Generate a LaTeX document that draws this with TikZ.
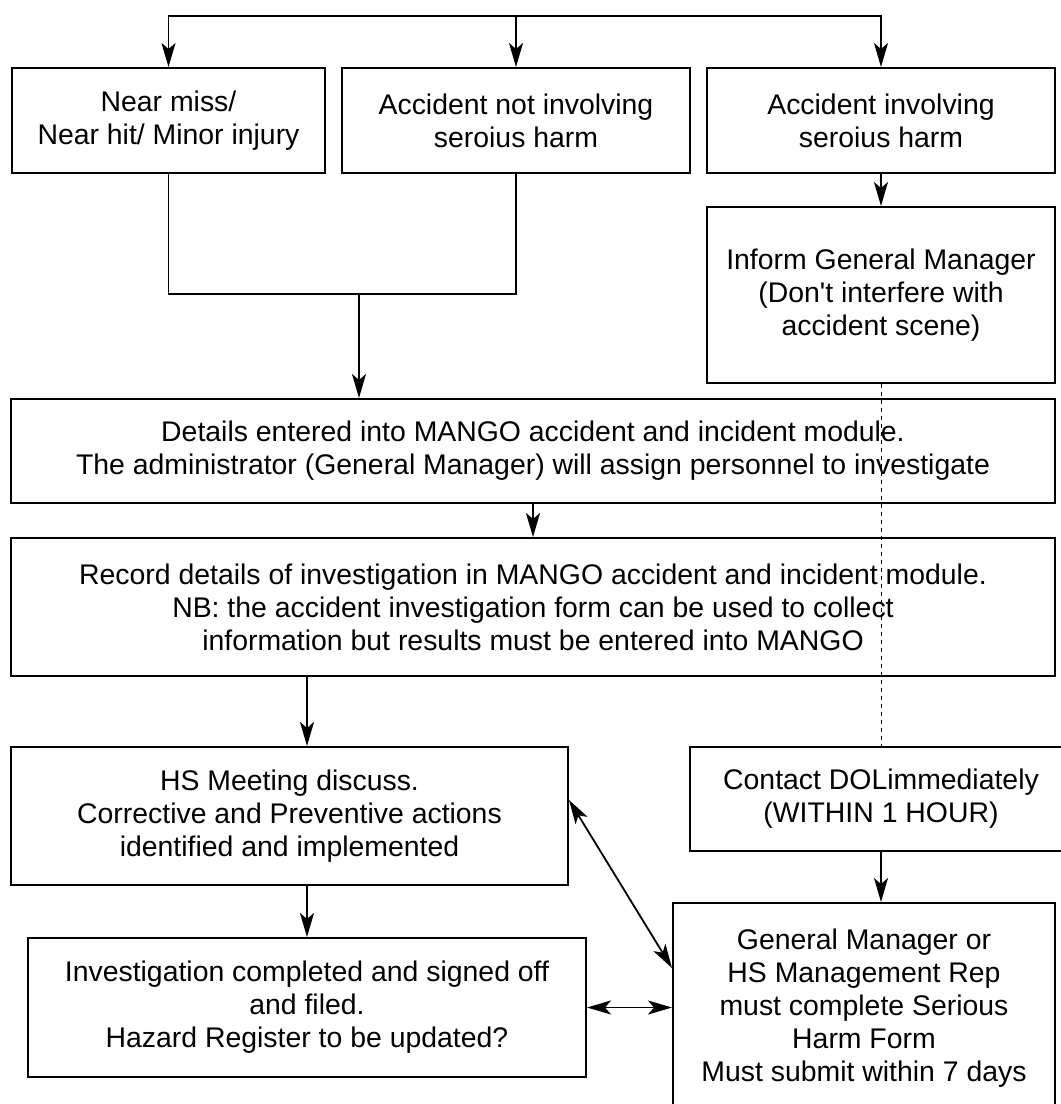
\documentclass[tikz,border=0pt]{standalone}
\usepackage{fontspec}
\setmainfont{Liberation Sans}
\usetikzlibrary{arrows.meta,positioning,calc}

\begin{document}
\begin{tikzpicture}[x=0.5pt, y=-0.5pt,
    stepbox/.style={rectangle, draw=black, line width=1pt, align=center,
                    inner sep=0pt, font=\fontsize{14.2}{16.5}\selectfont},
    arr/.style={-{Stealth[length=12pt, width=7pt, inset=3pt]}, line width=0.9pt},
    dbl/.style={{Stealth[length=12pt, width=7pt, inset=3pt]}-{Stealth[length=12pt, width=7pt, inset=3pt]},
                line width=0.9pt},
    link/.style={line width=0.9pt},
    dots/.style={dash pattern=on 2pt off 2pt, line width=0.5pt},
]
\useasboundingbox (0,0) rectangle (1061,1104);

% three kinds of event
\node[stepbox, minimum width=156.5pt, minimum height=52.5pt] (near) at (168.5,120.5)
    {Near miss/\\Near hit/ Minor injury};
\node[stepbox, minimum width=174pt, minimum height=52.5pt] (minor) at (516,120.5)
    {Accident not involving\\seroius harm};
\node[stepbox, minimum width=174pt, minimum height=52.5pt] (serious) at (881,120.5)
    {Accident involving\\seroius harm};
\coordinate (top) at (516,16);

% serious harm branch
\node[stepbox, minimum width=174pt, minimum height=88pt] (inform) at (881,295)
    {Inform General Manager\\(Don\textquotesingle t interfere with\\accident scene)};
\node[stepbox, minimum width=191pt, minimum height=52pt] (dol) at (881,799)
    {Contact DOLimmediately\\(WITHIN 1 HOUR)};
\node[stepbox, minimum width=191pt, minimum height=105pt] (form) at (864,1008)
    {General Manager or\\HS Management Rep\\must complete Serious\\Harm Form\\Must submit within 7 days};

% MANGO steps
\node[stepbox, minimum width=522pt, minimum height=52pt] (mango) at (533,451)
    {Details entered into MANGO accident and incident module.\\
     The administrator (General Manager) will assign personnel to investigate};
\node[stepbox, minimum width=522pt, minimum height=69pt] (record) at (533,607)
    {Record details of investigation in MANGO accident and incident module.\\
     NB: the accident investigation form can be used to collect\\
     information but results must be entered into MANGO};
\node[stepbox, minimum width=278.5pt, minimum height=69pt] (meeting) at (289.5,816)
    {HS Meeting discuss.\\Corrective and Preventive actions\\identified and implemented};
\node[stepbox, minimum width=279pt, minimum height=69.5pt] (closed) at (307,1007.5)
    {Investigation completed and signed off\\and filed.\\Hazard Register to be updated?};
\coordinate (merge) at (359,294);

\draw[arr] (top) -- (minor);
\draw[arr] (top) -| (near);
\draw[arr] (top) -| (serious);
\draw[link] (near) |- (merge) -| (minor);
\draw[arr] (merge) -- (merge |- mango.north);
\draw[arr] (serious) -- (inform);
\draw[dots] (inform) -- (dol);
\draw[arr] (dol.south) -- (dol.south |- form.north);
\draw[arr] (mango) -- (record);
\draw[arr] (record.south -| closed.north) -- (meeting.north -| closed.north);
\draw[arr] (meeting.south -| closed.north) -- (closed);
\draw[dbl] ([yshift=8pt]meeting.east) -- ([yshift=20pt]form.west);
\draw[dbl] (closed.east) -- (closed.east -| form.west);

\end{tikzpicture}
\end{document}
